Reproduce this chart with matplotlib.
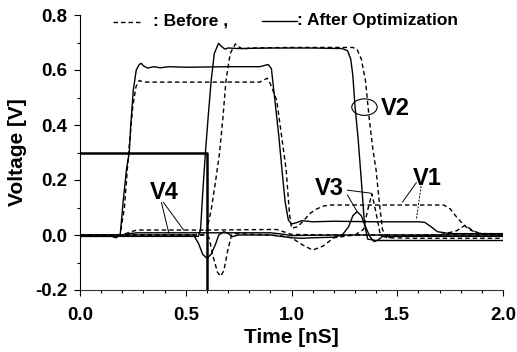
import matplotlib
matplotlib.use("Agg")
import matplotlib.pyplot as plt
from matplotlib.patches import Ellipse
from matplotlib.lines import Line2D
from matplotlib.ticker import MultipleLocator, FormatStrFormatter

# ---------------- data ----------------
# input step (solid, thick)
vin_t = [0.0, 0.6, 0.6]
vin_v = [0.3, 0.3, -0.3]

# V1 after (solid)
v1a_t = [0, 0.15, 0.17, 0.19, 0.205, 0.22, 0.233, 0.24, 0.252, 0.266, 0.28, 0.29, 0.30, 0.32, 0.35,
         0.38, 0.42, 0.5, 0.7, 0.85, 0.89, 0.905, 0.92, 0.94, 0.955, 0.97, 0.985, 1.0, 1.02, 1.05,
         1.1, 1.2, 1.4, 1.6, 1.63, 1.66, 1.69, 1.75, 2.0]
v1a_v = [-0.005, -0.005, -0.01, 0.0, 0.13, 0.24, 0.30, 0.40, 0.527, 0.60, 0.62, 0.624, 0.615, 0.607,
         0.612, 0.608, 0.612, 0.61, 0.612, 0.612, 0.62, 0.605, 0.50, 0.36, 0.236, 0.12, 0.055, 0.04,
         0.044, 0.052, 0.048, 0.05, 0.048, 0.048, 0.046, 0.03, 0.012, 0.005, 0.005]

# V1 before (dashed)
v1b_t = [0, 0.19, 0.21, 0.23, 0.25, 0.265, 0.28, 0.30, 0.5, 0.85, 0.885, 0.90, 0.93, 0.955, 0.975,
         0.99, 1.0, 1.03, 1.06, 1.09, 1.12, 1.15, 1.18, 1.4, 1.72, 1.75, 1.78, 1.81, 1.84, 1.88, 1.95, 2.0]
v1b_v = [0.0, 0.0, 0.1, 0.3, 0.47, 0.54, 0.562, 0.556, 0.556, 0.556, 0.57, 0.55, 0.49, 0.35, 0.236,
         0.08, 0.025, 0.03, 0.055, 0.08, 0.095, 0.105, 0.109, 0.109, 0.109, 0.095, 0.066, 0.04, 0.02,
         0.007, 0.003, 0.003]

# V2 after (solid)
v2a_t = [0, 0.5, 0.56, 0.57, 0.58, 0.593, 0.605, 0.62, 0.635, 0.655, 0.67, 0.685, 0.70, 0.75, 0.9,
         1.1, 1.24, 1.265, 1.28, 1.29, 1.30, 1.315, 1.33, 1.345, 1.36, 1.4, 1.5, 2.0]
v2a_v = [-0.005, -0.005, -0.005, 0.02, 0.15, 0.3, 0.42, 0.56, 0.66, 0.697, 0.685, 0.676, 0.68, 0.678,
         0.68, 0.68, 0.678, 0.67, 0.64, 0.58, 0.47, 0.35, 0.2, 0.04, -0.015, -0.02, -0.02, -0.02]

# V2 before (dashed)
v2b_t = [0, 0.58, 0.60, 0.62, 0.64, 0.66, 0.675, 0.69, 0.71, 0.735, 0.75, 0.77, 0.8, 1.0, 1.29,
         1.31, 1.33, 1.35, 1.368, 1.385, 1.40, 1.415, 1.43, 1.45, 1.6, 2.0]
v2b_v = [0.0, 0.0, 0.02, 0.09, 0.19, 0.30, 0.42, 0.56, 0.66, 0.695, 0.685, 0.675, 0.68, 0.682, 0.682,
         0.675, 0.64, 0.56, 0.42, 0.31, 0.236, 0.12, 0.02, -0.01, -0.012, -0.012]

# V3 after (solid)
v3a_t = [0, 0.5, 0.537, 0.56, 0.58, 0.60, 0.62, 0.64, 0.656, 0.68, 0.70, 0.72, 0.75, 0.9, 0.95, 1.0,
         1.05, 1.1, 1.2, 1.24, 1.27, 1.29, 1.31, 1.33, 1.35, 1.37, 1.39, 1.41, 1.43, 1.5, 1.7, 2.0]
v3a_v = [0.0, 0.0, 0.0, -0.03, -0.07, -0.085, -0.07, -0.035, 0.0, 0.012, 0.006, -0.006, 0.0, 0.0,
         -0.005, -0.01, -0.012, -0.01, -0.008, 0.0, 0.03, 0.07, 0.085, 0.07, 0.03, -0.005, -0.024,
         -0.018, -0.005, -0.005, -0.005, -0.005]

# V3 before (dashed)
v3b_t = [0, 0.6, 0.61, 0.63, 0.65, 0.665, 0.68, 0.70, 0.717, 0.74, 0.9, 0.95, 1.0, 1.05, 1.1, 1.15,
         1.2, 1.3, 1.34, 1.36, 1.38, 1.40, 1.42, 1.45, 1.5, 1.7, 1.78, 1.82, 1.86, 1.9, 2.0]
v3b_v = [0.0, 0.0, -0.01, -0.08, -0.135, -0.15, -0.13, -0.05, 0.0, 0.005, 0.0, -0.003, -0.01, -0.035,
         -0.055, -0.04, -0.01, 0.0, 0.02, 0.09, 0.15, 0.08, 0.0, -0.01, -0.005, 0.0, 0.015, 0.035,
         0.015, 0.003, 0.0]

# V4 after (solid)
v4a_t = [0, 0.2, 0.23, 0.27, 0.6, 0.9, 0.95, 1.0, 1.2, 1.5, 2.0]
v4a_v = [0.0, 0.0, 0.005, 0.008, 0.008, 0.008, 0.004, -0.002, 0.0, 0.0, 0.0]

# V4 before (dashed)
v4b_t = [0, 0.2, 0.24, 0.27, 0.6, 0.9, 0.93, 0.97, 1.0, 1.2, 1.5, 2.0]
v4b_v = [0.0, 0.0, 0.012, 0.018, 0.018, 0.02, 0.02, 0.01, 0.002, 0.0, 0.0, 0.0]

x_ticks = [0.0, 0.5, 1.0, 1.5, 2.0]
y_ticks = [-0.2, 0.0, 0.2, 0.4, 0.6, 0.8]

# ---------------- figure ----------------
fig = plt.figure(figsize=(5.17, 3.52), dpi=100)
ax = fig.add_axes([80 / 517, 1 - 290 / 352, (503 - 80) / 517, (290 - 15) / 352])

ARIAL = "Liberation Sans"
solid_kw = dict(color="black", lw=1.0, solid_joinstyle="round")
dash_kw = dict(color="black", lw=1.0, linestyle=(0, (3.2, 2.2)))

ax.plot(vin_t, vin_v, color="black", lw=1.8)
for t, v in [(v1b_t, v1b_v), (v2b_t, v2b_v), (v3b_t, v3b_v), (v4b_t, v4b_v)]:
    ax.plot(t, v, **dash_kw)
for t, v in [(v1a_t, v1a_v), (v2a_t, v2a_v), (v3a_t, v3a_v), (v4a_t, v4a_v)]:
    ax.plot(t, v, **solid_kw)

ax.set_xlim(0, 2.0)
ax.set_ylim(-0.2, 0.8)
ax.set_xticks(x_ticks)
ax.set_yticks(y_ticks)
ax.xaxis.set_minor_locator(MultipleLocator(0.1))
ax.yaxis.set_minor_locator(MultipleLocator(0.1))
ax.xaxis.set_major_formatter(FormatStrFormatter("%.1f"))
ax.yaxis.set_major_formatter(FormatStrFormatter("%.1f"))
ax.tick_params(which="major", direction="out", length=4, width=0.8, pad=5)
ax.tick_params(which="minor", direction="out", length=2, width=0.8)
ax.tick_params(axis="x", which="major", pad=8)
for lab in ax.get_xticklabels() + ax.get_yticklabels():
    lab.set_fontfamily(ARIAL)
    lab.set_fontweight("bold")
    lab.set_fontsize(13.5)
ax.spines["top"].set_visible(False)
ax.spines["right"].set_visible(False)
ax.spines["left"].set_linewidth(0.8)
ax.spines["bottom"].set_linewidth(0.8)
ax.spines["bottom"].set_color("#333333")

ax.set_xlabel("Time [nS]", fontfamily=ARIAL, fontweight="bold", fontsize=15, labelpad=3)
ax.set_ylabel("Voltage [V]", fontfamily=ARIAL, fontweight="bold", fontsize=15, labelpad=6)

# legend drawn manually at the top
tr = fig.transFigure
fig.add_artist(Line2D([113 / 517, 142 / 517], [1 - 22 / 352] * 2, transform=tr, **dash_kw))
fig.text(153 / 517, 1 - 21 / 352, ": Before ,", fontfamily=ARIAL, fontweight="bold", fontsize=12.5,
         va="center", ha="left")
fig.add_artist(Line2D([262 / 517, 297 / 517], [1 - 21 / 352] * 2, transform=tr, color="black", lw=1.0))
fig.text(297 / 517, 1 - 21 / 352, ": After Optimization", fontfamily=ARIAL, fontweight="bold",
         fontsize=12.5, va="center", ha="left")

# annotations
tk = dict(fontfamily=ARIAL, fontweight="bold", fontsize=17, ha="center", va="center")
ax.text(1.49, 0.46, "V2", **tk)
ax.add_patch(Ellipse((1.345, 0.465), 0.12, 0.06, fill=False, lw=0.8, color="black"))
ax.text(1.64, 0.205, "V1", **tk)
ax.plot([1.59, 1.525], [0.19, 0.12], color="black", lw=0.7)
ax.plot([1.615, 1.59], [0.19, 0.055], color="black", lw=0.7, linestyle=(0, (2, 1.5)))
ax.text(1.18, 0.17, "V3", **tk)
ax.plot([1.265, 1.31], [0.145, 0.085], color="black", lw=0.7)
ax.plot([1.265, 1.375], [0.163, 0.152], color="black", lw=0.7)
ax.text(0.40, 0.155, "V4", **tk)
ax.plot([0.385, 0.42], [0.118, 0.007], color="black", lw=0.7)
ax.plot([0.395, 0.49], [0.118, 0.018], color="black", lw=0.7)

fig.savefig("out.png", dpi=100)
